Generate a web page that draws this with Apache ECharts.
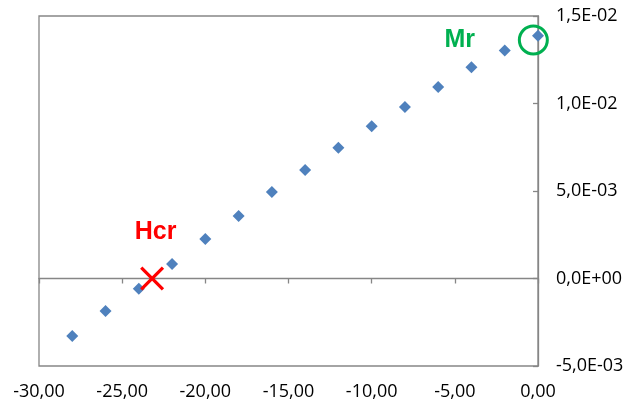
<!DOCTYPE html>
<html>
<head>
<meta charset="utf-8">
<script src="https://cdn.jsdelivr.net/npm/echarts@6/dist/echarts.min.js"></script>
<style>html,body{margin:0;padding:0;background:#fff}#c{width:631px;height:405px}</style>
</head>
<body>
<div id="c"></div>
<script>
const xValues = [-28, -26, -24, -22, -20, -18, -16, -14, -12, -10, -8, -6, -4, -2, 0];
const yValues = [-3.29e-3, -1.86e-3, -0.58e-3, 0.83e-3, 2.26e-3, 3.57e-3, 4.94e-3, 6.20e-3, 7.47e-3, 8.70e-3, 9.80e-3, 10.94e-3, 12.07e-3, 13.03e-3, 13.87e-3];
const xTickLabels = ['-30,00', '-25,00', '-20,00', '-15,00', '-10,00', '-5,00', '0,00'];
const yTickLabels = ['-5,0E-03', '0,0E+00', '5,0E-03', '1,0E-02', '1,5E-02'];
const hcrPoint = [-23.2, 0];
const mrPoint = [-0.28, 13.63e-3];
const annotationNames = ['Hcr', 'Mr'];
const annotationPositions = [[-22.99, 2.66e-3], [-4.71, 13.63e-3]];

const gray = '#868686';
const font = 'Open Sans';
const chart = echarts.init(document.getElementById('c'), null, {renderer: 'canvas'});
chart.setOption({
  animation: false,
  backgroundColor: '#fff',
  grid: {left: 39, right: 93, top: 16, bottom: 39, show: true, borderColor: gray, borderWidth: 1.3, backgroundColor: 'transparent'},
  xAxis: [{
    type: 'value', min: -30, max: 0, interval: 5, position: 'bottom',
    axisLine: {show: false, onZero: false}, axisTick: {show: false}, splitLine: {show: false},
    axisLabel: {margin: 17, color: '#000', fontFamily: font, fontSize: 18,
      formatter: (v, i) => xTickLabels[Math.round((v + 30) / 5)]}
  }, {
    type: 'value', min: -30, max: 0, interval: 5, position: 'bottom',
    axisLine: {show: true, onZero: true, lineStyle: {color: gray, width: 1.3}},
    axisTick: {show: true, length: 5, inside: false, lineStyle: {color: gray, width: 1.3}},
    axisLabel: {show: false}, splitLine: {show: false}
  }],
  yAxis: {
    type: 'value', min: -0.005, max: 0.015, interval: 0.005, position: 'right',
    axisLine: {show: true, onZero: false, lineStyle: {color: gray, width: 1.3}},
    axisTick: {show: true, inside: true, length: 5, lineStyle: {color: gray, width: 1.3}},
    splitLine: {show: false},
    axisLabel: {margin: 18, color: '#000', fontFamily: font, fontSize: 18,
      formatter: (v) => yTickLabels[Math.round((v + 0.005) / 0.005)]}
  },
  series: [{
    type: 'scatter', xAxisIndex: 0, symbol: 'diamond', symbolSize: 12,
    itemStyle: {color: '#4F81BD', opacity: 1},
    data: xValues.map((x, i) => [x, yValues[i]]), z: 3
  }, {
    type: 'scatter', xAxisIndex: 0, symbolSize: 24,
    symbol: 'path://M0,2.3 L2.3,0 L12,9.7 L21.7,0 L24,2.3 L14.3,12 L24,21.7 L21.7,24 L12,14.3 L2.3,24 L0,21.7 L9.7,12 Z',
    itemStyle: {color: '#FF0000', opacity: 1}, data: [hcrPoint], z: 4
  }, {
    type: 'scatter', xAxisIndex: 0, symbol: 'circle', symbolSize: 28,
    itemStyle: {color: 'transparent', borderColor: '#00B050', borderWidth: 3, opacity: 1},
    data: [mrPoint], z: 4
  }, {
    type: 'scatter', xAxisIndex: 0, symbolSize: 0,
    itemStyle: {opacity: 1},
    data: annotationNames.map((n, i) => ({name: n, value: annotationPositions[i],
      label: {color: i === 0 ? '#FF0000' : '#00B050'}})),
    label: {show: true, position: 'inside', formatter: p => p.name, opacity: 1,
      fontFamily: 'Liberation Sans', fontWeight: 'bold', fontSize: 25},
    z: 5
  }]
});
</script>
</body>
</html>
